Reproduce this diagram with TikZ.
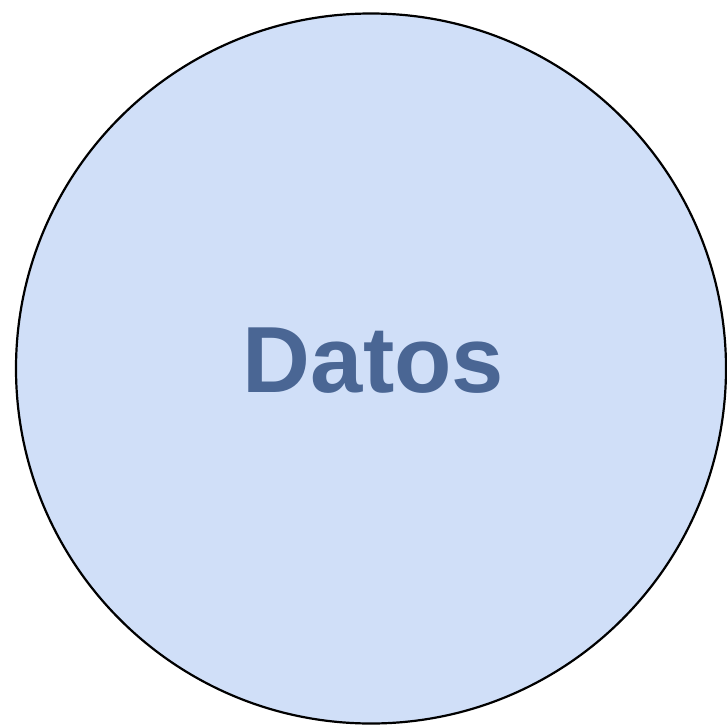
\documentclass[tikz,border=0pt]{standalone}
\usepackage{fontspec}
\setmainfont{Liberation Sans}
\definecolor{circfill}{HTML}{D0DFF8}
\definecolor{txtcol}{HTML}{4A6694}
\tikzset{datacircle/.style={circle, draw=black, line width=2.2pt, fill=circfill, minimum size=710pt, inner sep=0pt},
  datalabel/.style={text=txtcol, font=\bfseries\fontsize{94}{100}\selectfont, inner sep=0pt}}
\begin{document}
\begin{tikzpicture}[x=1pt,y=-1pt]
\useasboundingbox (0,0) rectangle (727,728);
\node[datacircle] (c) at (371,368.5) {};
\node[datalabel, anchor=base] (t) at (373.5,392) {Datos};
\end{tikzpicture}
\end{document}
